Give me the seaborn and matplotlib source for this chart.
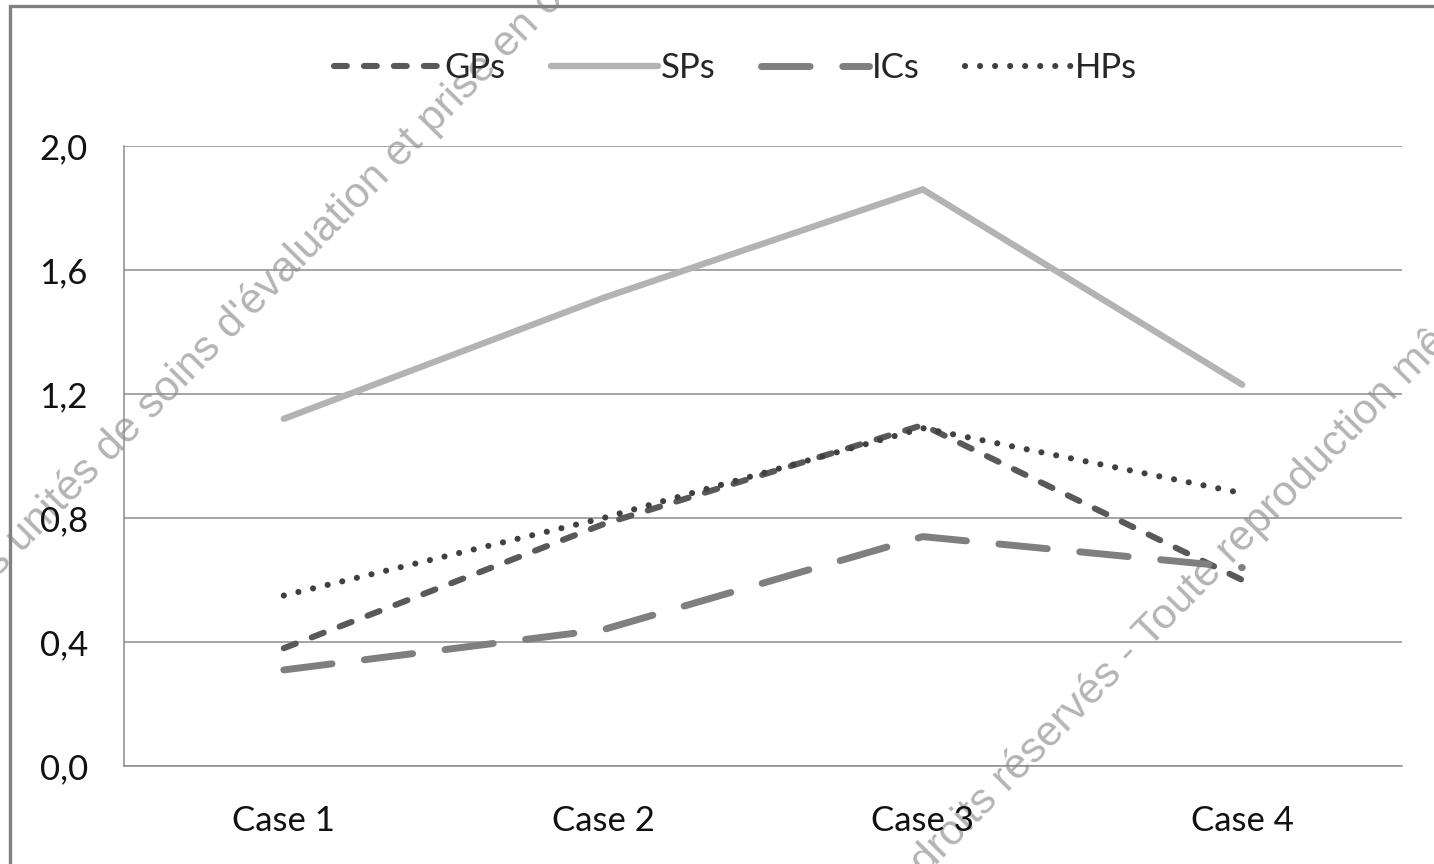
import matplotlib
matplotlib.use("Agg")
import matplotlib.pyplot as plt
from matplotlib.patches import Rectangle
from matplotlib.ticker import FuncFormatter, FixedLocator
import seaborn as sns
import pandas as pd

# Mean scores per case for each group of practitioners
cases = ["Case 1", "Case 2", "Case 3", "Case 4"]
gps = [0.38, 0.78, 1.10, 0.60]
sps = [1.12, 1.51, 1.86, 1.23]
ics = [0.31, 0.44, 0.74, 0.64]
hps = [0.55, 0.80, 1.09, 0.88]
series_names = ["GPs", "SPs", "ICs", "HPs"]
y_ticks = [0.0, 0.4, 0.8, 1.2, 1.6, 2.0]

df = pd.DataFrame({
    "case": cases * 4,
    "score": gps + sps + ics + hps,
    "group": [n for n in series_names for _ in cases],
})

styles = {
    "GPs": dict(color="#595959", lw=4.4, ls=(0, (2.1, 2.8))),
    "SPs": dict(color="#b3b3b3", lw=4.6, ls="-"),
    "ICs": dict(color="#7f7f7f", lw=5.0, ls=(0, (7.0, 4.7))),
    "HPs": dict(color="#404040", lw=4.4, ls=(0, (0.01, 2.45))),
}

sns.set_theme(style="white")
plt.rcParams["font.family"] = ["Lato", "DejaVu Sans"]

fig = plt.figure(figsize=(14.34, 8.64), dpi=100)
fig.patch.set_facecolor("white")
ax = fig.add_axes([0.0865, 0.1134, 0.8912, 0.7176])
ax.set_facecolor("none")

for name in series_names:
    sub = df[df["group"] == name]
    st = styles[name]
    sns.lineplot(data=sub, x="case", y="score", ax=ax, label=name,
                 color=st["color"], sort=False, zorder=3)
    line = ax.get_lines()[-1]
    line.set_linewidth(st["lw"])
    line.set_linestyle(st["ls"])
    line.set_dash_capstyle("round")
    line.set_solid_capstyle("round")
    line.set_solid_joinstyle("miter")

ax.set_xlim(-0.5, 3.5)
ax.set_ylim(0, 2.0)
ax.yaxis.set_major_locator(FixedLocator(y_ticks))
ax.yaxis.set_major_formatter(FuncFormatter(lambda v, _: f"{v:.1f}".replace(".", ",")))
ax.grid(axis="y", color="#8c8c8c", linewidth=1.1)
ax.grid(axis="x", visible=False)
ax.set_axisbelow(True)
ax.set_xlabel("")
ax.set_ylabel("")
for side in ["top", "right"]:
    ax.spines[side].set_visible(False)
for side in ["left", "bottom"]:
    ax.spines[side].set_color("#8c8c8c")
    ax.spines[side].set_linewidth(1.1)
ax.tick_params(axis="both", length=0, labelsize=25, labelcolor="#111111")
ax.tick_params(axis="y", pad=26)
ax.tick_params(axis="x", pad=28)

handles, labels = ax.get_legend_handles_labels()
ax.legend(handles, labels, ncol=4, loc="center", bbox_to_anchor=(0.513, 0.921),
          bbox_transform=fig.transFigure, frameon=False, fontsize=25,
          handlelength=3.1, columnspacing=1.3, handletextpad=0.08)

# Rights watermark across the chart
wm = dict(fontsize=31, color="#b4b4b4", family="Liberation Sans", rotation=45.5,
          rotation_mode="anchor", ha="left", va="baseline", zorder=-1)
fig.text(-0.0244, 0.2917, "des unités de soins d'évaluation et prise en charge", **wm)
fig.text(0.595, -0.0995, "Tous droits réservés - Toute reproduction même partielle interdite", **wm)

# Outer frame
fig.patches.append(Rectangle((0.0068, -0.02), 1.05, 1.013, transform=fig.transFigure,
                             fill=False, edgecolor="#808080", linewidth=2.4))

fig.savefig("out.png", dpi=100)
